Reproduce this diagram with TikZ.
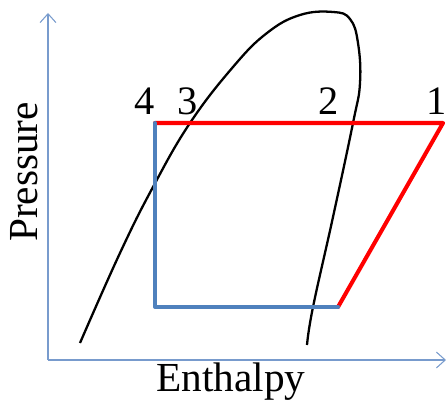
\documentclass[tikz,border=0pt]{standalone}
\usepackage{fontspec}
\setmainfont{Liberation Serif}
\usepackage{tikz}
\usetikzlibrary{arrows.meta, positioning, calc}

\definecolor{axisblue}{RGB}{120,155,205}
\definecolor{lowblue}{RGB}{79,129,189}
\definecolor{highred}{RGB}{255,0,0}

\tikzset{
    axis/.style={draw=axisblue, line width=0.6pt, -{Straight Barb[length=5pt, width=9pt]}},
    satcurve/.style={draw=black, line width=1.3pt},
    hiside/.style={draw=highred, line width=2.3pt, line cap=round, line join=round},
    loside/.style={draw=lowblue, line width=2.3pt, line cap=round, line join=round},
    statelabel/.style={font=\fontsize{23}{24}\selectfont, inner sep=0pt},
    axislabel/.style={font=\fontsize{23.5}{25}\selectfont, inner sep=0pt}
}

\begin{document}
\begin{tikzpicture}[x=0.02cm, y=-0.02cm]

        \useasboundingbox (0,0) rectangle (446,405);

        % axes
        \coordinate (origin) at (48,360);
        \coordinate (ytop) at (48,13);
        \coordinate (xend) at (446,360);
        \draw[axis] (origin) -- (ytop);
        \draw[axis] (origin) -- (xend);
        \node[axislabel] (xlab) at (231,382) {Enthalpy};
        \node[axislabel, rotate=90] (ylab) at (24,172) {Pressure};

        % saturation dome
        \draw[satcurve] plot[smooth, tension=0.7] coordinates {
            (80,343) (120,253) (153,187) (190,123) (233,67) (267,33)
            (300,15) (333,12) (350,19) (358,43) (360,83) (353,123)
            (333,217) (313,307) (307,345)};

        % cycle corners
        \coordinate (p4) at (155,123);
        \coordinate (p1) at (443,123);
        \coordinate (pe) at (338,307);
        \coordinate (pb) at (155,307);

        \draw[hiside] (p4) -- (p1) -- (pe);
        \draw[loside] (pe) -- (pb) -- (p4);

        % state points
        \node[statelabel] (s4) at (145,101) {4};
        \node[statelabel] (s3) at (188,101) {3};
        \node[statelabel] (s2) at (329,101) {2};
        \node[statelabel] (s1) at (437,101) {1};

\end{tikzpicture}
\end{document}
